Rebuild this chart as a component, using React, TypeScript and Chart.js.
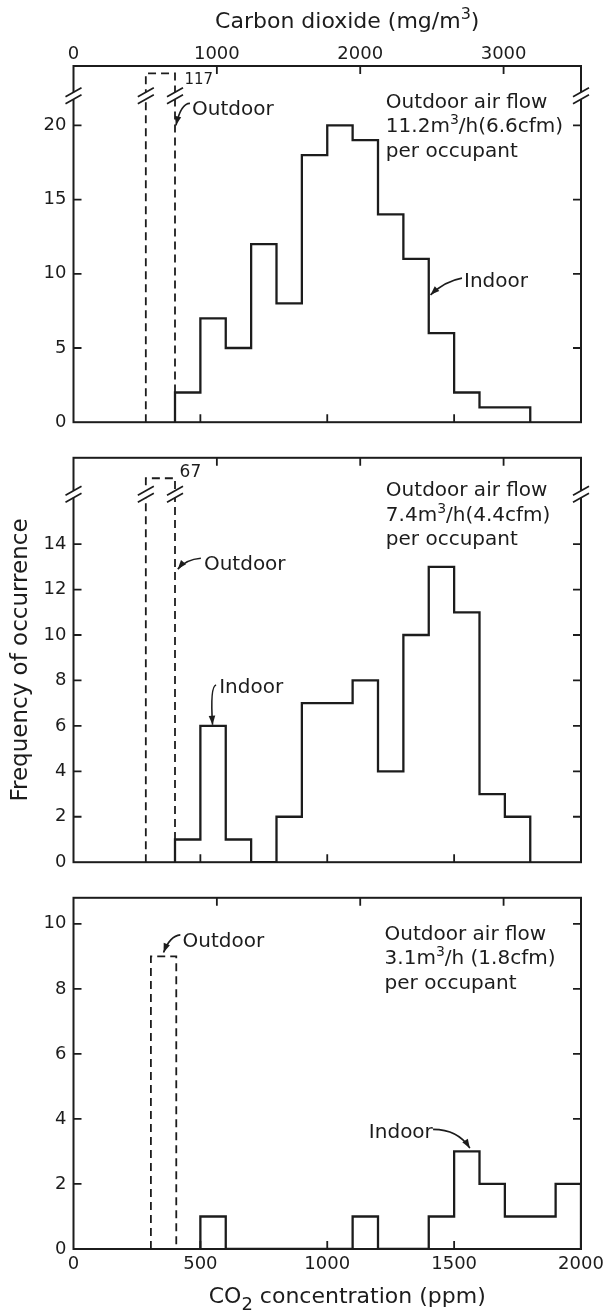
import React, { useEffect, useRef } from 'react';
import { Chart, registerables } from 'chart.js';

Chart.register(...registerables);

const INK = '#1c1c1c';
const FONT = "'DejaVu Sans', 'Liberation Sans', sans-serif";

// ---------------- data ----------------
const PPM_TICKS = [0, 500, 1000, 1500, 2000];
const PPM_RANGE = [0, 2000];
const MGM3_TICKS = [0, 1000, 2000, 3000];
const MGM3_RANGE = [0, 3540];

const TOP_TITLE = ['Carbon dioxide (mg/m', '3', ')'];
const BOTTOM_TITLE = ['CO', '2', ' concentration (ppm)'];
const Y_TITLE = 'Frequency of occurrence';

// Panel 1 : 11.2 m3/h per occupant
const P1_INDOOR_EDGES = [400, 500, 600, 700, 800, 900, 1000, 1100, 1200, 1300, 1400, 1500, 1600, 1800];
const P1_INDOOR_COUNTS = [2, 7, 5, 12, 8, 18, 20, 19, 14, 11, 6, 2, 1];
const P1_OUTDOOR_EDGES = [285, 400];
const P1_OUTDOOR_COUNT = 117;
const P1_Y_TICKS = [0, 5, 10, 15, 20];
const P1_Y_MAX = 24;
const P1_BREAK = 22;
const P1_BROKEN_TOP = 23.5;
const P1_FLOW = ['11.2m', '3', '/h(6.6cfm)'];

// Panel 2 : 7.4 m3/h per occupant
const P2_INDOOR_EDGES = [400, 500, 600, 700, 800, 900, 1100, 1200, 1300, 1400, 1500, 1600, 1700, 1800];
const P2_INDOOR_COUNTS = [1, 6, 1, 0, 2, 7, 8, 4, 10, 13, 11, 3, 2];
const P2_OUTDOOR_EDGES = [285, 400];
const P2_OUTDOOR_COUNT = 67;
const P2_Y_TICKS = [0, 2, 4, 6, 8, 10, 12, 14];
const P2_Y_MAX = 17.8;
const P2_BREAK = 16.2;
const P2_BROKEN_TOP = 16.9;
const P2_FLOW = ['7.4m', '3', '/h(4.4cfm)'];

// Panel 3 : 3.1 m3/h per occupant
const P3_INDOOR_EDGES = [500, 600, 1100, 1200, 1400, 1500, 1600, 1700, 1900, 2000];
const P3_INDOOR_COUNTS = [1, 0, 1, 0, 1, 3, 2, 1, 2];
const P3_OUTDOOR_EDGES = [305, 405];
const P3_OUTDOOR_COUNT = 9;
const P3_Y_TICKS = [0, 2, 4, 6, 8, 10];
const P3_Y_MAX = 10.8;
const P3_FLOW = ['3.1m', '3', '/h (1.8cfm)'];

// ---------------- layout / annotation placement ----------------
type Pt = [number, number];
type Part = { t: string; sup?: boolean; sub?: boolean };

interface Panel {
  top: number;
  height: number;
  padTop: number;
  padBottom: number;
  showTop: boolean;
  showBottom: boolean;
  showYTitle: boolean;
  edges: number[];
  counts: number[];
  outEdges: number[];
  outCount: number;
  yTicks: number[];
  yMax: number;
  breakAt: number | null;
  brokenTop: number;
  flow: string[];
  flowAt: Pt;
  outdoorLabelAt: Pt;
  countLabelAt: Pt | null;
  countLabelSize: number;
  indoorLabelAt: Pt;
  outdoorArrow: Pt[];
  indoorArrow: Pt[];
}

const PANELS: Panel[] = [
  {
    top: 0, height: 440, padTop: 0, padBottom: 13, showTop: true, showBottom: false, showYTitle: false,
    edges: P1_INDOOR_EDGES, counts: P1_INDOOR_COUNTS, outEdges: P1_OUTDOOR_EDGES, outCount: P1_OUTDOOR_COUNT,
    yTicks: P1_Y_TICKS, yMax: P1_Y_MAX, breakAt: P1_BREAK, brokenTop: P1_BROKEN_TOP,
    flow: P1_FLOW, flowAt: [1231, 21.2],
    outdoorLabelAt: [467, 20.68], countLabelAt: [437, 22.8], countLabelSize: 15,
    indoorLabelAt: [1539, 9.11],
    outdoorArrow: [[459, 21.48], [423, 21.48], [404, 20.0]],
    indoorArrow: [[1531, 9.71], [1464, 9.51], [1407, 8.58]],
  },
  {
    top: 440, height: 440, padTop: 13.6, padBottom: 15, showTop: false, showBottom: false, showYTitle: true,
    edges: P2_INDOOR_EDGES, counts: P2_INDOOR_COUNTS, outEdges: P2_OUTDOOR_EDGES, outCount: P2_OUTDOOR_COUNT,
    yTicks: P2_Y_TICKS, yMax: P2_Y_MAX, breakAt: P2_BREAK, brokenTop: P2_BROKEN_TOP,
    flow: P2_FLOW, flowAt: [1231, 16.1],
    outdoorLabelAt: [514, 12.86], countLabelAt: [418, 16.97], countLabelSize: 17,
    indoorLabelAt: [574, 7.46],
    outdoorArrow: [[502, 13.38], [443, 13.33], [411, 12.9]],
    indoorArrow: [[562, 7.8], [538, 7.75], [548, 6.05]],
  },
  {
    top: 880, height: 436, padTop: 12, padBottom: 0, showTop: false, showBottom: true, showYTitle: false,
    edges: P3_INDOOR_EDGES, counts: P3_INDOOR_COUNTS, outEdges: P3_OUTDOOR_EDGES, outCount: P3_OUTDOOR_COUNT,
    yTicks: P3_Y_TICKS, yMax: P3_Y_MAX, breakAt: null, brokenTop: 0,
    flow: P3_FLOW, flowAt: [1226, 9.51],
    outdoorLabelAt: [430, 9.3], countLabelAt: null, countLabelSize: 15,
    indoorLabelAt: [1164, 3.41],
    outdoorArrow: [[421, 9.66], [380, 9.63], [355, 9.12]],
    indoorArrow: [[1417, 3.68], [1515, 3.68], [1562, 3.1]],
  },
];

// ---------------- helpers ----------------
function histPoints(edges: number[], counts: number[]) {
  const pts: { x: number; y: number }[] = [{ x: edges[0], y: 0 }];
  counts.forEach((c, i) => {
    pts.push({ x: edges[i], y: c });
    pts.push({ x: edges[i + 1], y: c });
  });
  pts.push({ x: edges[edges.length - 1], y: 0 });
  return pts;
}

function drawParts(ctx: CanvasRenderingContext2D, parts: Part[], x: number, y: number, size: number, align: 'left' | 'center', smallScale = 0.72) {
  const sizes = parts.map((p) => (p.sup || p.sub ? Math.round(size * smallScale) : size));
  const widths = parts.map((p, i) => {
    ctx.font = `${sizes[i]}px ${FONT}`;
    return ctx.measureText(p.t).width;
  });
  const total = widths.reduce((a, b) => a + b, 0);
  let cx = align === 'center' ? x - total / 2 : x;
  ctx.textAlign = 'left';
  ctx.textBaseline = 'alphabetic';
  parts.forEach((p, i) => {
    ctx.font = `${sizes[i]}px ${FONT}`;
    const dy = p.sup ? -size * 0.42 : p.sub ? size * 0.33 : 0;
    ctx.fillText(p.t, cx, y + dy);
    cx += widths[i];
  });
}

function drawBreak(ctx: CanvasRenderingContext2D, x: number, y: number) {
  ctx.save();
  ctx.fillStyle = '#fff';
  ctx.fillRect(x - 3, y - 3.5, 6, 7);
  ctx.strokeStyle = INK;
  ctx.lineWidth = 1.7;
  ctx.beginPath();
  for (const d of [-3.5, 3.5]) {
    ctx.moveTo(x - 8, y + d + 4.5);
    ctx.lineTo(x + 8, y + d - 4.5);
  }
  ctx.stroke();
  ctx.restore();
}

function drawArrow(ctx: CanvasRenderingContext2D, pts: Pt[]) {
  const [a, c, b] = pts;
  ctx.beginPath();
  ctx.moveTo(a[0], a[1]);
  ctx.quadraticCurveTo(c[0], c[1], b[0], b[1]);
  ctx.stroke();
  const ang = Math.atan2(b[1] - c[1], b[0] - c[0]);
  const L = 9;
  const W = 3.3;
  const cos = Math.cos(ang);
  const sin = Math.sin(ang);
  ctx.beginPath();
  ctx.moveTo(b[0], b[1]);
  ctx.lineTo(b[0] - L * cos + W * sin, b[1] - L * sin - W * cos);
  ctx.lineTo(b[0] - L * cos - W * sin, b[1] - L * sin + W * cos);
  ctx.closePath();
  ctx.fill();
}

function overlayPlugin(p: Panel) {
  return {
    id: 'overlay',
    afterDraw(chart: any) {
      const ctx: CanvasRenderingContext2D = chart.ctx;
      const { left, right, top, bottom } = chart.chartArea;
      const xs = chart.scales.x;
      const x2 = chart.scales.x2;
      const ys = chart.scales.y;
      const X = (v: number) => xs.getPixelForValue(v);
      const Y = (v: number) => ys.getPixelForValue(v);
      const P = (pt: Pt): Pt => [X(pt[0]), Y(pt[1])];

      ctx.save();
      ctx.strokeStyle = INK;
      ctx.fillStyle = INK;
      ctx.lineWidth = 2;
      ctx.strokeRect(left, top, right - left, bottom - top);

      // inward tick marks
      const TL = 8;
      ctx.lineWidth = 1.8;
      ctx.beginPath();
      for (const v of p.yTicks) {
        if (v <= 0) continue;
        const y = Y(v);
        ctx.moveTo(left, y);
        ctx.lineTo(left + TL, y);
        ctx.moveTo(right, y);
        ctx.lineTo(right - TL, y);
      }
      for (const v of PPM_TICKS) {
        if (v <= PPM_RANGE[0] || v >= PPM_RANGE[1]) continue;
        const x = X(v);
        ctx.moveTo(x, bottom);
        ctx.lineTo(x, bottom - TL);
      }
      for (const v of MGM3_TICKS) {
        if (v <= MGM3_RANGE[0] || v >= MGM3_RANGE[1]) continue;
        const x = x2.getPixelForValue(v);
        ctx.moveTo(x, top);
        ctx.lineTo(x, top + TL);
      }
      ctx.stroke();

      // scale breaks
      if (p.breakAt !== null) {
        const yb = Y(p.breakAt);
        for (const x of [left, right, X(p.outEdges[0]), X(p.outEdges[1])]) drawBreak(ctx, x, yb);
      }

      // annotations
      ctx.fillStyle = INK;
      ctx.strokeStyle = INK;
      ctx.lineWidth = 1.6;
      const [fx, fy] = P(p.flowAt);
      drawParts(ctx, [{ t: 'Outdoor air flow' }], fx, fy, 20, 'left');
      drawParts(ctx, [{ t: p.flow[0] }, { t: p.flow[1], sup: true }, { t: p.flow[2] }], fx, fy + 24.5, 20, 'left', 0.7);
      drawParts(ctx, [{ t: 'per occupant' }], fx, fy + 49, 20, 'left');

      const ol = P(p.outdoorLabelAt);
      drawParts(ctx, [{ t: 'Outdoor' }], ol[0], ol[1], 20, 'left');
      const il = P(p.indoorLabelAt);
      drawParts(ctx, [{ t: 'Indoor' }], il[0], il[1], 20, 'left');
      if (p.countLabelAt && p.outCount > p.yMax) {
        const cl = P(p.countLabelAt);
        drawParts(ctx, [{ t: String(p.outCount) }], cl[0], cl[1], p.countLabelSize, 'left');
      }
      drawArrow(ctx, p.outdoorArrow.map(P));
      drawArrow(ctx, p.indoorArrow.map(P));

      // axis titles
      const cx = (left + right) / 2 + 20;
      if (p.showTop) {
        drawParts(ctx, [{ t: TOP_TITLE[0] }, { t: TOP_TITLE[1], sup: true }, { t: TOP_TITLE[2] }], cx, 28, 22, 'center', 0.72);
      }
      if (p.showBottom) {
        drawParts(ctx, [{ t: BOTTOM_TITLE[0] }, { t: BOTTOM_TITLE[1], sub: true }, { t: BOTTOM_TITLE[2] }], cx, bottom + 54, 22, 'center', 0.8);
      }
      ctx.restore();
    },
  };
}

function buildConfig(p: Panel): any {
  const outTop = p.outCount > p.yMax ? p.brokenTop : p.outCount;
  const tickFont = { family: FONT, size: 18 };
  return {
    type: 'line',
    data: {
      datasets: [
        {
          label: 'Indoor',
          data: histPoints(p.edges, p.counts),
          borderColor: INK,
          borderWidth: 2.3,
          pointRadius: 0,
          fill: false,
          tension: 0,
          borderJoinStyle: 'miter',
        },
        {
          label: 'Outdoor',
          data: histPoints(p.outEdges, [outTop]),
          borderColor: INK,
          borderWidth: 1.8,
          borderDash: [8, 5],
          pointRadius: 0,
          fill: false,
          tension: 0,
        },
      ],
    },
    options: {
      animation: false,
      responsive: false,
      devicePixelRatio: 1,
      events: [],
      layout: { padding: { top: p.padTop, bottom: p.padBottom, left: 0, right: 28 } },
      plugins: { legend: { display: false }, tooltip: { enabled: false } },
      scales: {
        x: {
          type: 'linear',
          position: 'bottom',
          min: PPM_RANGE[0],
          max: PPM_RANGE[1],
          display: p.showBottom,
          grid: { display: false, drawTicks: false },
          border: { display: false },
          afterBuildTicks: (s: any) => {
            s.ticks = PPM_TICKS.map((v) => ({ value: v }));
          },
          afterFit: p.showBottom
            ? (s: any) => {
                s.height = p.height - 369;
              }
            : undefined,
          ticks: { autoSkip: false, maxRotation: 0, padding: 5, color: INK, font: tickFont, callback: (v: any) => String(v) },
        },
        x2: {
          type: 'linear',
          position: 'top',
          min: MGM3_RANGE[0],
          max: MGM3_RANGE[1],
          display: p.showTop,
          grid: { display: false, drawTicks: false },
          border: { display: false },
          afterBuildTicks: (s: any) => {
            s.ticks = MGM3_TICKS.map((v) => ({ value: v }));
          },
          afterFit: p.showTop
            ? (s: any) => {
                s.height = 66;
              }
            : undefined,
          ticks: { autoSkip: false, maxRotation: 0, padding: 1, color: INK, font: tickFont, callback: (v: any) => String(v) },
        },
        y: {
          type: 'linear',
          min: 0,
          max: p.yMax,
          grid: { display: false, drawTicks: false },
          border: { display: false },
          afterBuildTicks: (s: any) => {
            s.ticks = p.yTicks.map((v) => ({ value: v }));
          },
          afterFit: (s: any) => {
            s.width = 73.5;
          },
          ticks: { padding: 7, color: INK, font: tickFont, callback: (v: any) => String(v) },
          title: {
            display: p.showYTitle,
            text: Y_TITLE,
            color: INK,
            font: { family: FONT, size: 23 },
            padding: { top: 7, bottom: 0 },
          },
        },
      },
    },
    plugins: [overlayPlugin(p)],
  };
}

export default function App() {
  const refs = useRef<(HTMLCanvasElement | null)[]>([]);
  useEffect(() => {
    Chart.defaults.font.family = FONT;
    Chart.defaults.color = INK;
    const charts = PANELS.map((p, i) => new Chart(refs.current[i] as HTMLCanvasElement, buildConfig(p)));
    return () => charts.forEach((c) => c.destroy());
  }, []);
  return (
    <div style={{ position: 'absolute', left: 0, top: 0, width: 609, height: 1316, background: '#fff', overflow: 'hidden' }}>
      {PANELS.map((p, i) => (
        <canvas
          key={i}
          ref={(el) => {
            refs.current[i] = el;
          }}
          width={609}
          height={p.height}
          style={{ position: 'absolute', left: 0, top: p.top, width: 609, height: p.height, display: 'block' }}
        />
      ))}
    </div>
  );
}
